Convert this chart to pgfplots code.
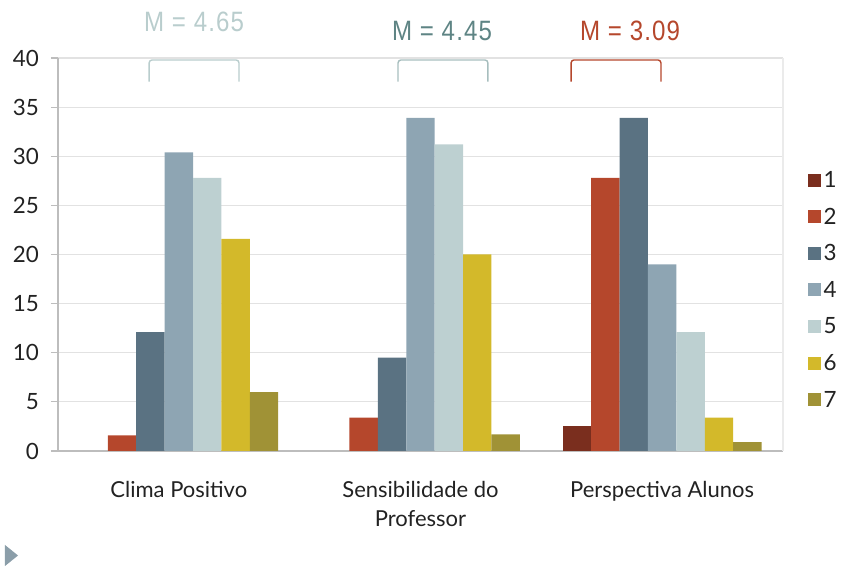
\documentclass[border=0pt]{standalone}
\usepackage{fontspec}
\setmainfont{Lato}
\newfontfamily\mfont[FakeStretch=0.86,LetterSpace=4]{Liberation Sans}
\usepackage{pgfplots}
\pgfplotsset{compat=1.18}
\definecolor{c1}{HTML}{7A2E1E}
\definecolor{c2}{HTML}{B5472C}
\definecolor{c3}{HTML}{5A7282}
\definecolor{c4}{HTML}{8EA5B3}
\definecolor{c5}{HTML}{BDD0D1}
\definecolor{c6}{HTML}{D3B92A}
\definecolor{c7}{HTML}{A09236}
\definecolor{mA}{HTML}{B9CDCD}
\definecolor{mB}{HTML}{5E8484}
\definecolor{mC}{HTML}{B5472C}
\definecolor{gridc}{HTML}{E2E2E2}
\definecolor{axisc}{HTML}{BDBDBD}
\definecolor{txt}{HTML}{222222}
\begin{document}
\begin{tikzpicture}
\useasboundingbox (-29pt,-58pt) rectangle (400pt,225.5pt);
\begin{axis}[
  scale only axis,
  width=362.5pt, height=196.5pt,
  xmin=-0.5, xmax=2.5, ymin=0, ymax=40,
  ybar=0pt, bar width=14.2pt,
  axis x line*=bottom, axis y line*=left,
  axis line style={axisc, line width=0.6pt},
  ymajorgrids, grid style={gridc, line width=0.6pt},
  ytick={0,5,...,40},
  xtick={0,1,2},
  xticklabels={Clima Positivo,{Sensibilidade do\\Professor},Perspectiva Alunos},
  x tick style={draw=none},
  extra x ticks={-0.5,0.5,1.5,2.5},
  extra x tick labels={},
  extra x tick style={grid=none, tick style={draw=axisc, line width=0.6pt}, major tick length=4pt, tick align=outside},
  y tick style={draw=axisc, line width=0.6pt},
  major tick length=3.5pt, tick align=outside,
  /pgf/number format/assume math mode=true,
  yticklabel style={font=\fontsize{11.2}{12}\selectfont, text=txt, xshift=-2.5pt},
  xticklabel style={font=\fontsize{11}{14.5}\selectfont, text=txt, align=center, yshift=-8pt},
  clip=false,
  legend style={at={(1.025,0.41)}, anchor=west, draw=none, fill=none,
    font=\fontsize{11.2}{12}\selectfont, text=txt,
    row sep=7.8pt, nodes={inner sep=1.5pt, text height=7.5pt, text depth=0pt}},
  legend cell align=left,
  legend image code/.code={\fill[#1] (0pt,-3.25pt) rectangle (6.5pt,3.25pt);},
]
\addplot[fill=c1, draw=none] coordinates {(2,2.5)};
\addplot[fill=c2, draw=none] coordinates {(0,1.6) (1,3.4) (2,27.8)};
\addplot[fill=c3, draw=none] coordinates {(0,12.1) (1,9.5) (2,33.9)};
\addplot[fill=c4, draw=none] coordinates {(0,30.4) (1,33.9) (2,19.0)};
\addplot[fill=c5, draw=none] coordinates {(0,27.8) (1,31.2) (2,12.1)};
\addplot[fill=c6, draw=none] coordinates {(0,21.6) (1,20.0) (2,3.4)};
\addplot[fill=c7, draw=none] coordinates {(0,6.0) (1,1.7) (2,0.9)};
\legend{1,2,3,4,5,6,7}
\draw[gridc!70!white, line width=0.6pt] (rel axis cs:1,0) -- (rel axis cs:1,1);
\draw[mA, line width=0.7pt, rounded corners=1.5pt] (axis cs:-0.123,37.6) -- (axis cs:-0.123,39.8) -- (axis cs:0.249,39.8) -- (axis cs:0.249,37.6);
\draw[mA!80!mB, line width=0.7pt, rounded corners=1.5pt] (axis cs:0.907,37.6) -- (axis cs:0.907,39.8) -- (axis cs:1.279,39.8) -- (axis cs:1.279,37.6);
\draw[mC, line width=0.7pt, rounded corners=1.5pt] (axis cs:1.623,37.6) -- (axis cs:1.623,39.8) -- (axis cs:1.995,39.8) -- (axis cs:1.995,37.6);
\node[mA, font=\mfont\fontsize{14}{16}\selectfont] at (axis cs:0.063,43.66) {M = 4.65};
\node[mB, font=\mfont\fontsize{14}{16}\selectfont] at (axis cs:1.089,42.75) {M = 4.45};
\node[mC, font=\mfont\fontsize{14}{16}\selectfont] at (axis cs:1.867,42.75) {M = 3.09};
\end{axis}
\fill[c4!80!gray] (-26.5pt,-47pt) -- (-20pt,-52.25pt) -- (-26.5pt,-57.5pt) -- cycle;
\end{tikzpicture}
\end{document}
